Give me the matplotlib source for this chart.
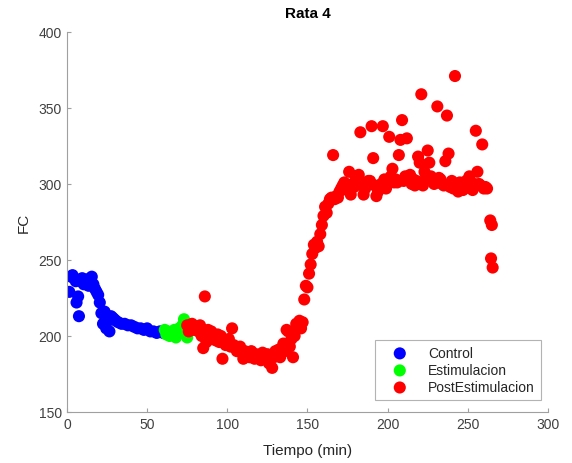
import matplotlib

matplotlib.use("Agg")
import matplotlib.pyplot as plt

plt.rcParams["font.family"] = ["Liberation Sans", "DejaVu Sans"]

# Control (blue)
t_control = [1.5, 2.5, 3.5, 4.5, 5.5, 6, 7, 7.5, 8.5, 9.5, 10.5, 11.5, 12.5, 13.5,
             14.5, 15.5, 16.5, 17.5, 18.5, 19.5, 20.5, 21.5, 22.5, 23.5, 24.5, 25.5,
             26.5, 27.5, 28.5, 29.5, 30.5, 32, 34, 36, 38, 40, 42, 44, 46, 48, 50,
             52, 54, 56, 58, 60]
fc_control = [229, 239, 240, 238, 236, 222, 226, 213, 236, 238, 234, 237, 235, 233,
              238, 239, 234, 231, 229, 227, 222, 215, 208, 216, 205, 210, 203, 213,
              212, 211, 210, 209, 208, 208, 207, 207, 206, 205, 205, 204, 205, 203,
              203, 202, 203, 202]

# Estimulacion (green)
t_estim = [61, 62, 63, 64, 65, 66, 67, 68, 69, 70, 71, 72, 73, 74, 75, 76]
fc_estim = [204, 201, 203, 200, 202, 201, 204, 199, 203, 205, 202, 207, 211, 203,
            199, 205]

# PostEstimulacion (red)
t_post = list(range(75, 263)) + [264, 265, 264.5, 265.5]
fc_post = [
    207, 203, 205, 208, 204, 206, 205, 203, 207, 200,  # 75-84
    192, 226, 196, 204, 200, 203, 198, 199, 197, 201,  # 85-94
    196, 200, 185, 197, 194, 195, 198, 193, 205, 194,  # 95-104
    192, 190, 191, 193, 189, 185, 190, 188, 189, 186,  # 105-114
    190, 187, 185, 188, 186, 187, 184, 189, 186, 185,  # 115-124
    188, 182, 187, 179, 186, 190, 188, 191, 186, 192,  # 125-134
    195, 190, 204, 203, 193, 198, 186, 200, 208, 206,  # 135-144
    210, 205, 209, 224, 233, 232, 241, 247, 254, 260,  # 145-154
    258, 262, 259, 267, 273, 279, 285, 281, 287, 290,  # 155-164
    291, 319, 290, 292, 291, 295, 297, 299, 301, 299,  # 165-174
    296, 308, 293, 300, 298, 305, 300, 306, 334, 299,  # 175-184
    293, 297, 301, 302, 302, 338, 317, 299, 292, 295,  # 185-194
    297, 300, 338, 303, 297, 301, 331, 305, 310, 301,  # 195-204
    303, 301, 319, 329, 342, 302, 305, 330, 305, 306,  # 205-214
    300, 303, 299, 302, 318, 314, 359, 299, 308, 305,  # 215-224
    322, 314, 305, 303, 300, 301, 351, 304, 303, 300,  # 225-234
    299, 315, 345, 320, 298, 302, 297, 371, 297, 295,  # 235-244
    301, 298, 296, 300, 302, 299, 305, 297, 296, 300,  # 245-254
    335, 308, 300, 299, 326, 297, 298, 297,            # 255-262
    276, 273, 251, 245,
]

fig = plt.figure(figsize=(5.72, 4.64), dpi=100)
ax = fig.add_axes([0.117, 0.110, 0.841, 0.819])

ms = 76
ax.scatter(t_control, fc_control, s=ms, color=(0, 0, 1), edgecolors="none", label="Control")
ax.scatter(t_estim, fc_estim, s=ms, color=(0, 1, 0), edgecolors="none", label="Estimulacion")
ax.scatter(t_post, fc_post, s=ms, color=(1, 0, 0), edgecolors="none", label="PostEstimulacion")

ax.set_xlim(0, 300)
ax.set_ylim(150, 400)
ax.set_xticks(range(0, 301, 50))
ax.set_yticks(range(150, 401, 50))

for side in ("top", "right"):
    ax.spines[side].set_visible(False)
for side in ("left", "bottom"):
    ax.spines[side].set_color("#a0a0a0")
    ax.spines[side].set_linewidth(0.8)
ax.tick_params(direction="in", length=3, color="#a0a0a0", labelcolor="#404040",
               labelsize=10)

ax.set_title("Rata 4", fontsize=11, fontweight="bold", color="black", pad=11)
ax.set_xlabel("Tiempo (min)", fontsize=11, color="#262626", labelpad=9)
ax.set_ylabel("FC", fontsize=11, color="#262626", labelpad=6)

leg = ax.legend(loc="lower right", fontsize=10, frameon=True, fancybox=False,
                edgecolor="#a0a0a0", handletextpad=0.7, borderpad=0.4,
                labelspacing=0.22, handlelength=2.7, bbox_to_anchor=(0.999, 0.014))
leg.get_frame().set_linewidth(0.8)
for t in leg.get_texts():
    t.set_color("#262626")

fig.savefig("out.png", dpi=100)
